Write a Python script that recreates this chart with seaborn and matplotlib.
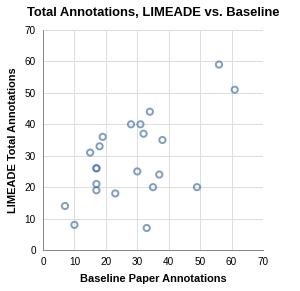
import matplotlib
matplotlib.use('Agg')
import matplotlib.pyplot as plt
import seaborn as sns
import pandas as pd

# values
baseline = [56, 61, 34, 28, 31, 32, 38, 19, 18, 15, 17, 17, 30, 37, 17, 17, 23, 35, 49, 7, 10, 33]
limeade = [59, 51, 44, 40, 40, 37, 35, 36, 33, 31, 26, 26, 25, 24, 21, 19, 18, 20, 20, 14, 8, 7]
ticks = [0, 10, 20, 30, 40, 50, 60, 70]

df = pd.DataFrame({'Baseline Paper Annotations': baseline,
                   'LIMEADE Total Annotations': limeade})

sns.set_style('white')
plt.rcParams['font.family'] = ['Liberation Sans', 'DejaVu Sans']
plt.rcParams['text.color'] = 'black'
plt.rcParams['axes.labelcolor'] = 'black'

px = 0.72  # one pixel in points at dpi 100
fig = plt.figure(figsize=(3.0, 2.91), dpi=100)
ax = fig.add_axes([43 / 300, 41 / 291, 220 / 300, 220 / 291])

sns.scatterplot(data=df, x='Baseline Paper Annotations', y='LIMEADE Total Annotations',
                ax=ax, s=20, facecolor='none', edgecolor='#4c78a8',
                linewidth=2 * px, alpha=0.7, zorder=3, clip_on=False)

ax.set_xlim(0, 70)
ax.set_ylim(0, 70)
ax.set_xticks(ticks)
ax.set_yticks(ticks)
ax.grid(True, color='#dddddd', linewidth=1 * px, zorder=0)
ax.set_axisbelow(True)
for side in ['top', 'right']:
    ax.spines[side].set_visible(False)
for side in ['left', 'bottom']:
    ax.spines[side].set_color('#888888')
    ax.spines[side].set_linewidth(1 * px)
ax.tick_params(axis='both', length=5 * px, width=1 * px, color='#888888',
               labelsize=10 * px, labelcolor='#000000', pad=2 * px, direction='out')

ax.set_xlabel('Baseline Paper Annotations', fontsize=11 * px, fontweight='bold', labelpad=5)
ax.set_ylabel('LIMEADE Total Annotations', fontsize=11 * px, fontweight='bold', labelpad=5)
fig.text(153 / 300, 1 - 13 / 291, 'Total Annotations, LIMEADE vs. Baseline',
         fontsize=13 * px, fontweight='bold', ha='center', va='center')

fig.savefig('out.png', dpi=100, facecolor='white')
